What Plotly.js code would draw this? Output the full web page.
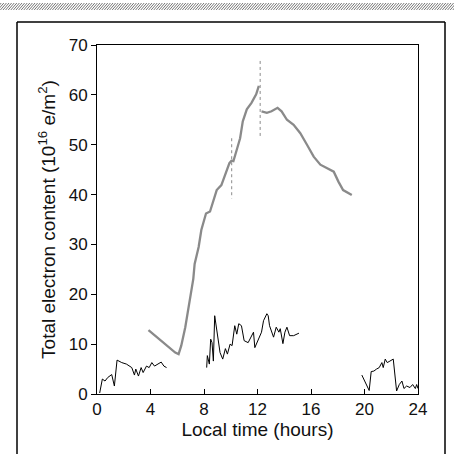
<!DOCTYPE html>
<html>
<head>
<meta charset="utf-8">
<script src="https://cdn.plot.ly/plotly-3.0.1.min.js"></script>
<style>html,body{margin:0;padding:0;background:#fff;}#chart{width:454px;height:454px;}</style>
</head>
<body>
<div id="chart"></div>
<script>
// Local time (hours) and total electron content (10^16 e/m^2)
var blackTime = [0.2,0.4,0.6,0.8,1.1,1.3,1.5,1.85,2.2,2.6,2.8,2.9,3.1,3.3,3.45,3.7,3.9,4.1,4.3,4.6,4.8,5.0,5.2,
  null,
  8.2,8.25,8.4,8.5,8.6,8.7,8.8,9.0,9.2,9.4,9.6,9.75,9.95,10.1,10.3,10.45,10.6,10.8,11.0,11.3,11.7,11.8,12.05,12.3,12.45,12.55,12.7,12.8,12.9,13.2,13.4,13.6,13.7,13.9,14.05,14.2,14.4,14.7,15.1,
  null,
  19.8,20.0,20.35,20.5,20.7,20.9,21.1,21.3,21.4,21.55,21.7,21.9,22.15,22.4,22.6,22.8,22.95,23.15,23.4,23.6,23.8,23.9,24.0];
var blackTEC = [0.2,3.0,2.6,3.3,3.9,1.6,6.8,6.3,6.0,5.3,3.8,5.0,3.6,5.3,4.3,5.6,5.3,6.3,5.6,6.1,6.4,5.6,5.3,
  null,
  5.3,7.7,6.0,11.0,10.3,6.6,15.7,12.0,8.3,7.0,9.1,8.0,10.0,9.7,13.7,12.0,14.1,13.7,10.7,10.3,12.4,9.3,10.7,12.4,14.7,15.4,16.1,15.7,13.7,11.4,13.4,12.4,13.1,10.1,12.4,13.4,11.7,11.7,12.2,
  null,
  3.8,2.6,0.7,4.5,4.6,5.0,5.3,6.3,5.3,7.0,6.3,6.6,7.0,0.6,1.9,2.6,1.1,1.6,1.3,1.9,1.1,1.9,1.1];

var greyTime = [3.85,4.45,5.2,5.85,6.1,6.3,6.6,6.8,6.95,7.0,7.2,7.3,7.6,7.8,8.15,8.45,8.65,8.95,9.3,9.55,9.9,10.05,
  10.2,10.45,10.7,10.9,11.2,11.55,11.9,12.1,
  null,
  12.3,12.7,13.05,13.5,13.8,14.2,14.7,15.2,15.7,16.2,16.7,17.2,17.7,18.05,18.4,19.05];
var greyTEC = [12.8,11.4,9.7,8.3,8.0,9.7,13.4,16.7,18.8,19.4,23.1,26.1,29.5,32.9,36.2,36.6,38.2,40.9,41.9,43.6,46.3,46.8,
  46.7,49.0,51.3,54.7,57.1,58.4,60.1,61.8,
  null,
  56.7,56.4,56.7,57.4,56.7,55.0,54.0,52.3,50.0,47.6,46.0,45.3,44.6,42.6,40.9,39.9];

var spikeTime = [10.07,10.07,null,12.2,12.2];
var spikeTEC = [51.3,39.2,null,66.8,51.3];

var xTicks = [0,4,8,12,16,20,24];
var yTicks = [0,10,20,30,40,50,60,70];

// pixel -> paper helpers (decoration only)
var L = 97, R = 418, T = 45, B = 394;
function px(x){ return (x - L) / (R - L); }
function py(y){ return (B - y) / (B - T); }

var hatch = '';
for (var hx = -10; hx < 460; hx += 2.6) {
  hatch += 'M' + px(hx).toFixed(4) + ',' + py(10).toFixed(4) + 'L' + px(hx + 6).toFixed(4) + ',' + py(3).toFixed(4) + ' ';
}

var font = {family: '"Liberation Sans", Arial, Helvetica, sans-serif', color: '#111'};

var traces = [
  {x: blackTime, y: blackTEC, type: 'scatter', mode: 'lines', connectgaps: false,
   line: {color: '#000', width: 1}, hoverinfo: 'skip'},
  {x: greyTime, y: greyTEC, type: 'scatter', mode: 'lines', connectgaps: false,
   line: {color: '#8a8a8a', width: 2.3}, hoverinfo: 'skip'},
  {x: spikeTime, y: spikeTEC, type: 'scatter', mode: 'lines', connectgaps: false,
   line: {color: '#8a8a8a', width: 1, dash: 'dot'}, hoverinfo: 'skip'}
];

var layout = {
  width: 454, height: 454,
  margin: {l: L, r: 454 - R, t: T, b: 454 - B, pad: 0},
  paper_bgcolor: '#fff', plot_bgcolor: '#fff',
  showlegend: false,
  font: Object.assign({size: 17}, font),
  xaxis: {
    range: [0, 24], tickvals: xTicks, ticktext: xTicks.map(String),
    ticks: 'inside', ticklen: 5, tickwidth: 1, tickcolor: '#000',
    showline: true, linecolor: '#000', linewidth: 1, mirror: true,
    showgrid: false, zeroline: false,
    tickfont: Object.assign({size: 17}, font),
    title: {text: 'Local time (hours)', font: Object.assign({size: 19}, font), standoff: 2}
  },
  yaxis: {
    range: [0, 70], tickvals: yTicks, ticktext: yTicks.map(String),
    ticks: 'outside', ticklen: 5, tickwidth: 1, tickcolor: '#000',
    showline: true, linecolor: '#000', linewidth: 1, mirror: true,
    showgrid: false, zeroline: false,
    tickfont: Object.assign({size: 17}, font),
    title: {text: 'Total electron content (10<sup>16</sup> e/m<sup>2</sup>)', font: Object.assign({size: 19}, font), standoff: 8}
  },
  shapes: [
    {type: 'path', xref: 'paper', yref: 'paper', path: hatch, line: {color: '#777', width: 1}},
    {type: 'line', xref: 'paper', yref: 'paper', x0: px(17), x1: px(17), y0: py(22), y1: py(460), line: {color: '#000', width: 1.5}},
    {type: 'line', xref: 'paper', yref: 'paper', x0: px(445), x1: px(445), y0: py(22), y1: py(460), line: {color: '#000', width: 1.5}},
    {type: 'line', xref: 'paper', yref: 'paper', x0: px(17), x1: px(445), y0: py(22), y1: py(22), line: {color: '#000', width: 1.5}}
  ]
};

Plotly.newPlot('chart', traces, layout, {staticPlot: true, displayModeBar: false});
</script>
</body>
</html>
